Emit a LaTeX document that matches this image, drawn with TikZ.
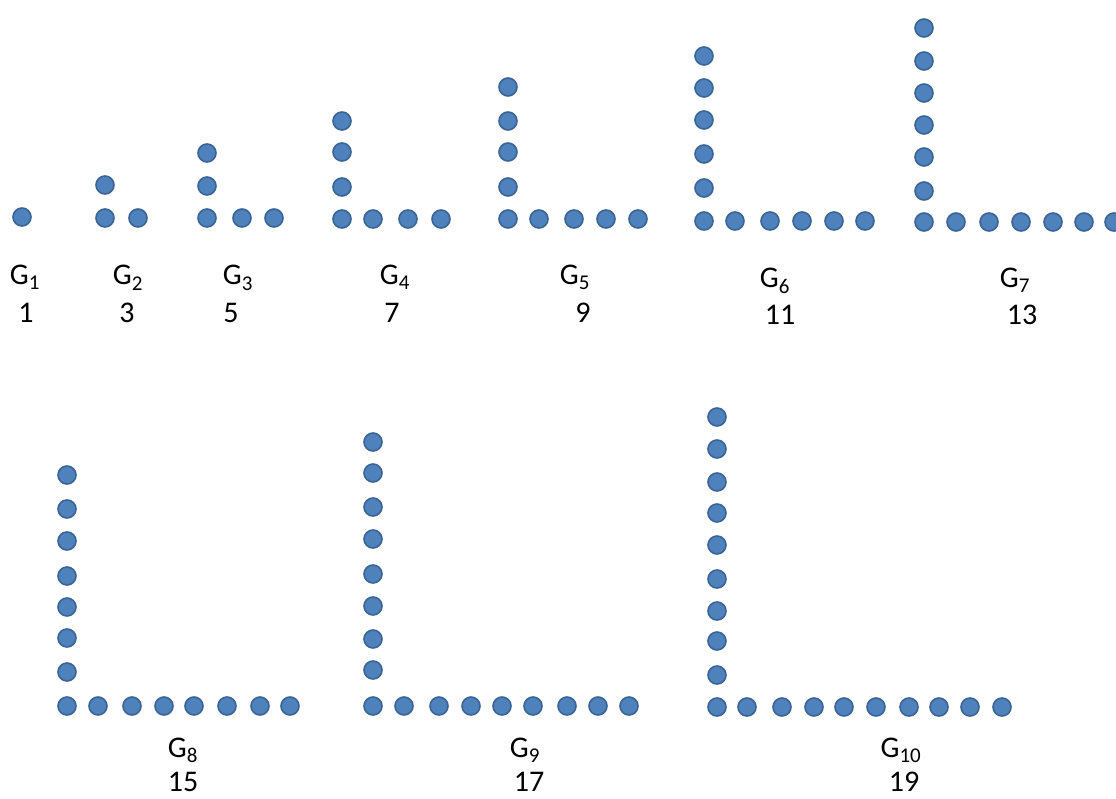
\documentclass[tikz,border=0pt]{standalone}
\usepackage{fontspec}
\setmainfont{Carlito}
\usepackage{xcolor}
\usepackage{tikz}

\definecolor{dotblue}{HTML}{4F81BD}
\definecolor{dotedge}{HTML}{3A6494}

\begin{document}
\begin{tikzpicture}[
    x=1pt, y=-1pt,
    % Stili comuni per i punti e le etichette delle figure.
    dot/.style={circle, draw=dotedge, fill=dotblue, line width=1.6pt, minimum size=18pt, inner sep=0pt},
    every node/.style={font=\fontsize{30}{36}\selectfont},
    name label/.style={anchor=base, inner sep=0pt},
    count label/.style={anchor=base, inner sep=0pt}
]
% Cornice fissa dell'immagine.
\clip (0,0) rectangle (1116,799);

% Prima riga: figure G_1 ... G_7 a forma di L.
\node[dot] (g1h1) at (22,217) {};

\node[dot] (g2v1) at (105,185) {};
\foreach \x [count=\i] in {105,138} \node[dot] (g2h\i) at (\x,218) {};

\foreach \y [count=\i] in {153,186} \node[dot] (g3v\i) at (207,\y) {};
\foreach \x [count=\i] in {207,242,274} \node[dot] (g3h\i) at (\x,218) {};

\foreach \y [count=\i] in {121,152,187} \node[dot] (g4v\i) at (342,\y) {};
\foreach \x [count=\i] in {342,373,408,441} \node[dot] (g4h\i) at (\x,219) {};

\foreach \y [count=\i] in {87,121,152,187} \node[dot] (g5v\i) at (508,\y) {};
\foreach \x [count=\i] in {508,539,574,606,638} \node[dot] (g5h\i) at (\x,219) {};

\foreach \y [count=\i] in {56,88,120,154,188} \node[dot] (g6v\i) at (704,\y) {};
\foreach \x [count=\i] in {704,735,770,802,834,865} \node[dot] (g6h\i) at (\x,221) {};

\foreach \y [count=\i] in {28,61,93,125,157,191} \node[dot] (g7v\i) at (924,\y) {};
\foreach \x [count=\i] in {924,956,989,1021,1053,1084,1114} \node[dot] (g7h\i) at (\x,222) {};

% Seconda riga: figure G_8, G_9, G_10.
\foreach \y [count=\i] in {475,509,541,576,607,638,672} \node[dot] (g8v\i) at (67,\y) {};
\foreach \x [count=\i] in {67,98,132,164,194,227,260,290} \node[dot] (g8h\i) at (\x,706) {};

\foreach \y [count=\i] in {442,473,507,539,574,606,639,670} \node[dot] (g9v\i) at (373,\y) {};
\foreach \x [count=\i] in {373,404,439,471,502,533,567,598,629} \node[dot] (g9h\i) at (\x,706) {};

\foreach \y [count=\i] in {417,449,482,513,545,579,611,641,675} \node[dot] (g10v\i) at (717,\y) {};
\foreach \x [count=\i] in {717,747,782,814,844,876,909,939,970,1002} \node[dot] (g10h\i) at (\x,707) {};

% Nomi delle figure e numero di punti.
\node[name label]  (lab1)  at (25,285)   {G\textsubscript{1}};
\node[count label] (num1)  at (26,323)   {1};
\node[name label]  (lab2)  at (128,285)  {G\textsubscript{2}};
\node[count label] (num2)  at (127,323)  {3};
\node[name label]  (lab3)  at (238,285)  {G\textsubscript{3}};
\node[count label] (num3)  at (231,323)  {5};
\node[name label]  (lab4)  at (395,285)  {G\textsubscript{4}};
\node[count label] (num4)  at (392,323)  {7};
\node[name label]  (lab5)  at (575,285)  {G\textsubscript{5}};
\node[count label] (num5)  at (583,323)  {9};
\node[name label]  (lab6)  at (775,288)  {G\textsubscript{6}};
\node[count label] (num6)  at (780,325)  {11};
\node[name label]  (lab7)  at (1015,288) {G\textsubscript{7}};
\node[count label] (num7)  at (1022,325) {13};

\node[name label]  (lab8)  at (183,757)  {G\textsubscript{8}};
\node[count label] (num8)  at (183,791)  {15};
\node[name label]  (lab9)  at (525,757)  {G\textsubscript{9}};
\node[count label] (num9)  at (529,791)  {17};
\node[name label]  (lab10) at (901,757)  {G\textsubscript{10}};
\node[count label] (num10) at (904,791)  {19};
\end{tikzpicture}
\end{document}
